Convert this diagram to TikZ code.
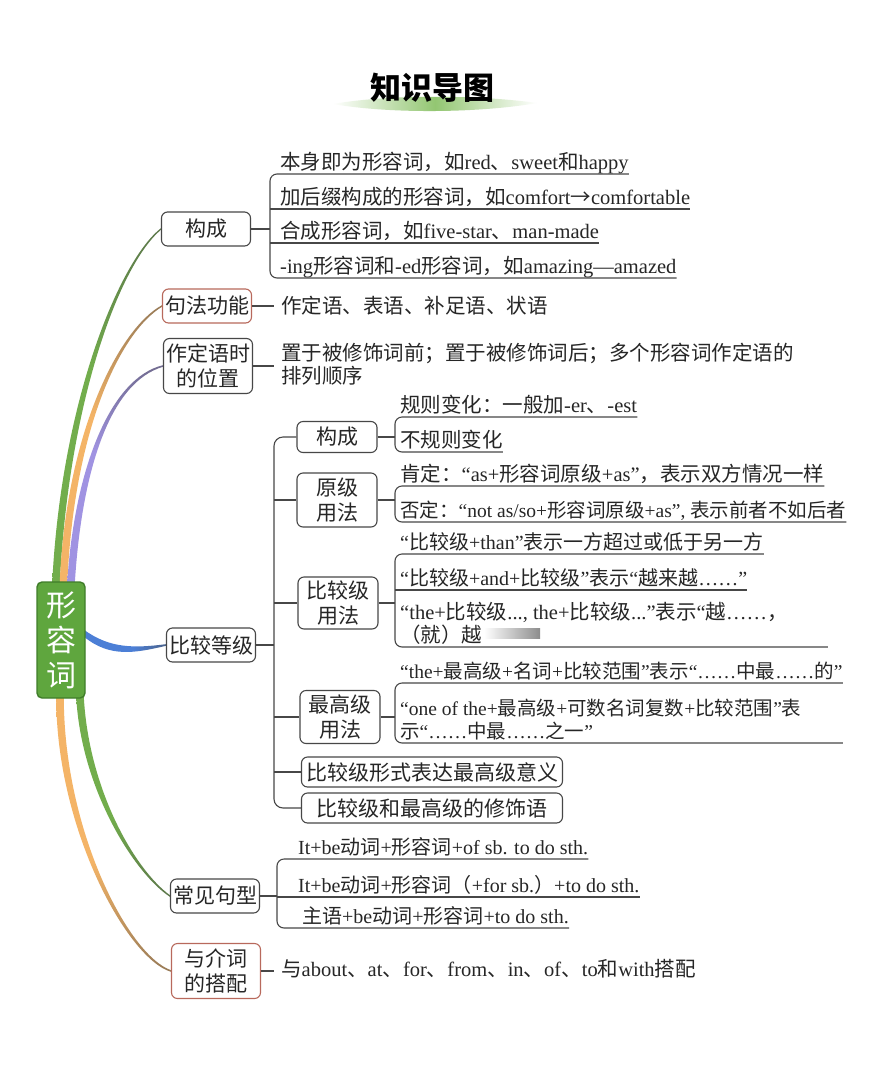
\documentclass[tikz,border=0pt]{standalone}
\usepackage{fontspec}
\setmainfont{Liberation Serif}
\newfontfamily\cjkfont{Noto Sans CJK SC}
\usepackage{tikz}
\usetikzlibrary{calc,backgrounds}
\definecolor{ink}{HTML}{262626}
\definecolor{edge}{HTML}{474747}
\definecolor{warm}{HTML}{B8695C}
\definecolor{grnb}{HTML}{72AD4C}
\definecolor{orgb}{HTML}{F4B467}
\definecolor{purb}{HTML}{A093E2}
\definecolor{blub}{HTML}{4C7FD6}
\definecolor{rootg}{HTML}{5FA63E}
\definecolor{rootd}{HTML}{3F7D2A}
\definecolor{brush}{HTML}{93C672}
\definecolor{limbend}{HTML}{4A4A4A}
\colorlet{brc}{grnb}

% Chinese runs are set in the CJK face, the rest in Liberation Serif
\XeTeXinterchartokenstate=1
\newXeTeXintercharclass\hanclass
\makeatletter
\def\sethan#1#2{\count@=#1\relax
  \loop\XeTeXcharclass\count@=\hanclass\ifnum\count@<#2\advance\count@\@ne\repeat}
\makeatother
\sethan{"3000}{"303F}
\sethan{"4E00}{"9FFF}
\sethan{"FF00}{"FFEF}
\XeTeXcharclass"2192=\hanclass
\XeTeXcharclass"201C=0 \XeTeXcharclass"201D=0 \XeTeXcharclass"2026=0
\XeTeXcharclass"2014=0
\XeTeXinterchartoks 0 \hanclass={\cjkfont}
\XeTeXinterchartoks 4095 \hanclass={\cjkfont}
\XeTeXinterchartoks \hanclass 0={\rmfamily}
\XeTeXinterchartoks \hanclass 4095={\rmfamily}

\pgfdeclareverticalshading[brc,limbend]{limbfade}{100bp}{color(0bp)=(brc); color(55bp)=(brc); color(92bp)=(limbend); color(100bp)=(limbend)}

% tapered branch: shading, start, control 1, control 2, end, start offsets
\newcommand\limb[7]{%
  \shade[#1] ($#2+(#6,0)$) .. controls ($#3+(#6,0)$) and ($#4+(0,-2.2)$) .. ($#5+(0,-0.8)$)
    -- ($#5+(0,0.8)$) .. controls ($#4+(0,2.2)$) and ($#3+(#7,0)$) .. ($#2+(#7,0)$) -- cycle;}

\tikzset{
  hub/.style={draw=rootd, fill=rootg, line width=1.4pt, rounded corners=5pt, text=white, align=center,
              minimum width=48pt, minimum height=116pt, inner sep=0pt, font=\fontsize{30}{35}\selectfont},
  topic/.style={draw=edge, fill=white, line width=1.1pt, rounded corners=6pt, align=center, text=ink,
              minimum width=89pt, minimum height=34pt, inner sep=2pt, font=\fontsize{21}{25}\selectfont},
  redtopic/.style={topic, draw=warm},
  subt/.style={topic, minimum width=80pt, minimum height=31pt},
  leaf/.style={anchor=south west, inner sep=0pt, text depth=4pt, align=left, text=ink,
              font=\fontsize{20.5}{23.5}\selectfont},
  leafsm/.style={leaf, font=\fontsize{19.5}{23}\selectfont},
  leafmd/.style={leaf, font=\fontsize{20}{23}\selectfont},
  note/.style={leaf, inner xsep=7pt},
  twig/.style={draw=edge, line width=1.1pt, rounded corners=7pt},
  ttl/.style={font=\fontsize{31}{35}\selectfont\bfseries, text=black},
}

\begin{document}
\begin{tikzpicture}[x=1pt, y=-1pt]
  \useasboundingbox (0,0) rectangle (892,1080);

  % title
  \shade[left color=white, right color=white, middle color=brush]
    (333,104) .. controls (390,94) and (480,95) .. (537,103) .. controls (480,113) and (390,114) .. (333,104) -- cycle;
  \node[ttl] (ttl) at (432,88) {知识导图};

  % root and main topics
  \node[hub] (adj) at (61,640) {形\\容\\词};
  \node[topic] (form) at (206,229) {构成};
  \node[redtopic] (synt) at (207,306) {句法功能};
  \node[topic, minimum height=55pt] (attr) at (208,366) {作定语时\\的位置};
  \node[topic] (degr) at (211,645) {比较等级};
  \node[topic] (patt) at (215,896) {常见句型};
  \node[redtopic, minimum height=55pt] (prep) at (216,971) {与介词\\的搭配};

  % 构成
  \coordinate (kb) at (270,0);
  \node[leaf] (k1) at (280,174) {本身即为形容词，如red、sweet和happy};
  \node[leaf] (k2) at (280,209) {加后缀构成的形容词，如comfort→comfortable};
  \node[leaf] (k3) at (280,243) {合成形容词，如five-star、man-made};
  \node[leaf] (k4) at (280,278) {-ing形容词和-ed形容词，如amazing—amazed};
  \draw[twig] (k1.south east) -- (k1.south -| kb) -- (k4.south -| kb) -- (k4.south east);
  \draw[twig] (k2.south -| kb) -- (k2.south east);
  \draw[twig] (k3.south -| kb) -- (k3.south east);
  \draw[twig] (form.east) -- (form.east -| kb);

  % 句法功能, 作定语时的位置
  \node[note] (synttxt) at (274,318) {作定语、表语、补足语、状语};
  \draw[twig] (synt.east) -- (synt.east -| synttxt.west);
  \node[note] (attrtxt) at (274,388) {置于被修饰词前；置于被修饰词后；多个形容词作定语的\\排列顺序};
  \draw[twig] (attr.east) -- (attr.east -| attrtxt.west);

  % 比较等级
  \node[subt] (sform) at (337,437) {构成};
  \node[subt, minimum height=54pt] (spos) at (337,500) {原级\\用法};
  \node[subt, minimum height=52pt] (scmp) at (338,603) {比较级\\用法};
  \node[subt, minimum height=53pt] (ssup) at (340,717) {最高级\\用法};
  \node[subt, minimum width=261pt, minimum height=30pt] (sexp) at (432,772) {比较级形式表达最高级意义};
  \node[subt, minimum width=261pt, minimum height=30pt] (smod) at (432,808) {比较级和最高级的修饰语};
  \coordinate (dv) at (274,0);
  \draw[twig, rounded corners=9pt] (sform.west) -- (sform.west -| dv) -- (smod.west -| dv) -- (smod.west);
  \draw[twig] (spos.west -| dv) -- (spos.west);
  \draw[twig] (scmp.west -| dv) -- (scmp.west);
  \draw[twig] (ssup.west -| dv) -- (ssup.west);
  \draw[twig] (sexp.west -| dv) -- (sexp.west);
  \draw[twig] (degr.east) -- (degr.east -| dv);

  \coordinate (gb) at (395,0);
  \node[leaf] (g1) at (400,417) {规则变化：一般加-er、-est};
  \node[leaf] (g2) at (400,452) {不规则变化};
  \draw[twig] (g1.south east) -- (g1.south -| gb) -- (g2.south -| gb) -- (g2.south east);
  \draw[twig] (sform.east) -- (sform.east -| gb);

  \node[leaf] (o1) at (400,486) {肯定：“as+形容词原级+as”，表示双方情况一样};
  \node[leafsm] (o2) at (400,522) {否定：“not as/so+形容词原级+as”, 表示前者不如后者};
  \draw[twig] (o1.south east) -- (o1.south -| gb) -- (o2.south -| gb) -- (o2.south east);
  \draw[twig] (spos.east) -- (spos.east -| gb);

  \node[leafmd] (c1) at (400,554) {“比较级+than”表示一方超过或低于另一方};
  \node[leafmd] (c2) at (400,590) {“比较级+and+比较级”表示“越来越……”};
  \node[leaf] (c3) at (400,647) {“the+比较级..., the+比较级...”表示“越……，\\（就）越};
  \shade[left color=white, right color=black!45] (484,628) rectangle (540,638);
  \draw[twig] (c1.south east) -- (c1.south -| gb) -- (c3.south -| gb) -- ([xshift=40pt]c3.south east);
  \draw[twig] (c2.south -| gb) -- (c2.south east);
  \draw[twig] (scmp.east) -- (scmp.east -| gb);

  \node[leafsm] (s1) at (400,683) {“the+最高级+名词+比较范围”表示“……中最……的”};
  \node[leafsm] (s2) at (400,743) {“one of the+最高级+可数名词复数+比较范围”表\\示“……中最……之一”};
  \draw[twig] (s1.south east) -- (s1.south -| gb) -- (s2.south -| gb) -- (s2.south -| s1.east);
  \draw[twig] (ssup.east) -- (ssup.east -| gb);

  % 常见句型
  \coordinate (pb) at (277,0);
  \node[leafmd] (p1) at (298,859) {It+be动词+形容词+of sb. to do sth.};
  \node[leafmd] (p2) at (298,897) {It+be动词+形容词（+for sb.）+to do sth.};
  \node[leafmd] (p3) at (302,928) {主语+be动词+形容词+to do sth.};
  \draw[twig] (p1.south east) -- (p1.south -| pb) -- (p3.south -| pb) -- (p3.south east);
  \draw[twig] (p2.south -| pb) -- (p2.south east);
  \draw[twig] (patt.east) -- (patt.east -| pb);

  % 与介词的搭配
  \node[note] (preptxt) at (274,981) {与about、at、for、from、in、of、to和with搭配};
  \draw[twig] (prep.east) -- (prep.east -| preptxt.west);

  % branches from the root
  \coordinate (r1) at ($(adj.north)+(-5,2)$);
  \coordinate (r2) at ($(adj.north)+(2.5,2)$);
  \coordinate (r3) at ($(adj.north)+(10,2)$);
  \coordinate (r4) at ($(adj.east)+(-2,-7)$);
  \coordinate (r5) at ($(adj.south)+(-1,-2)$);
  \coordinate (r6) at ($(adj.south)+(19,-2)$);
  \begin{scope}[on background layer]
    \fill[white] (0,0) rectangle (892,1080);
    \colorlet{brc}{grnb}
    \limb{shading=limbfade}{(r1)}{(65,400)}{(120,262)}{(form.west)}{-3.8}{3.8}
    \colorlet{brc}{orgb}
    \limb{shading=limbfade}{(r2)}{(70,430)}{(120,330)}{(synt.west)}{-3.8}{3.8}
    \colorlet{brc}{purb}
    \limb{shading=limbfade}{(r3)}{(78,470)}{(110,380)}{(attr.west)}{-3.8}{3.8}
    \colorlet{brc}{blub}
    \shade[shading=limbfade, shading angle=-90] ($(r4)+(0,-3.5)$) .. controls (110,649) and (135,648) .. ($(degr.west)+(0,-0.8)$)
      -- ($(degr.west)+(0,0.8)$) .. controls (135,653) and (110,658) .. ($(r4)+(0,3.5)$) -- cycle;
    \colorlet{brc}{grnb}
    \limb{shading=limbfade, shading angle=180}{(r6)}{(85,790)}{(135,872)}{(patt.west)}{3.8}{-3.8}
    \colorlet{brc}{orgb}
    \limb{shading=limbfade, shading angle=180}{(r5)}{(60,830)}{(128,957)}{(prep.west)}{3.8}{-3.8}
  \end{scope}
\end{tikzpicture}
\end{document}
